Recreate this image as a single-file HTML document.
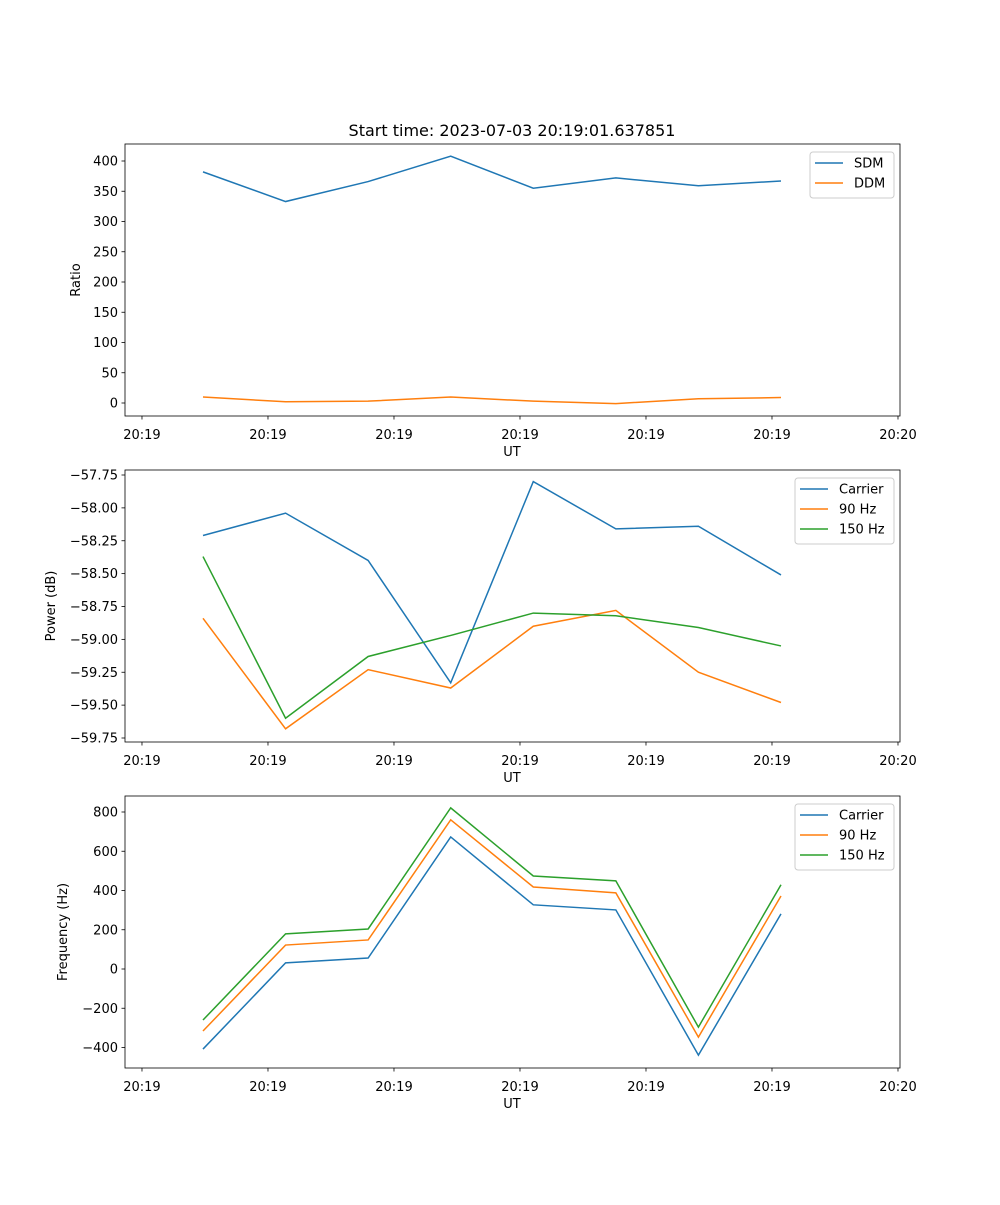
<!DOCTYPE html>
<html><head><meta charset="utf-8"><style>
html,body{margin:0;padding:0;background:#fff;}
svg text{font-family:"DejaVu Sans","Liberation Sans",sans-serif;fill:#000;}
</style></head><body>
<svg id="fig" width="1000" height="1200" xmlns="http://www.w3.org/2000/svg">
<text x="512" y="136" font-size="16" text-anchor="middle">Start time: 2023-07-03 20:19:01.637851</text>
</svg>
<script>
const xTickPos = [-0.739, 0.787, 2.313, 3.839, 5.365, 6.891, 8.417];
const xTickLabels = ["20:19","20:19","20:19","20:19","20:19","20:19","20:20"];
const sdm = [382, 333, 366, 408, 355, 372, 359, 367];
const ddm = [10, 2, 3, 10, 3, -1, 7, 9];
const pwrCarrier = [-58.21, -58.04, -58.40, -59.33, -57.80, -58.16, -58.14, -58.51];
const pwr90 = [-58.84, -59.68, -59.23, -59.37, -58.90, -58.78, -59.25, -59.48];
const pwr150 = [-58.37, -59.60, -59.13, -58.97, -58.80, -58.82, -58.91, -59.05];
const frqCarrier = [-408, 31, 56, 673, 327, 301, -439, 281];
const frq90 = [-316, 122, 148, 760, 418, 388, -347, 372];
const frq150 = [-260, 179, 204, 821, 474, 449, -296, 429];
const ratioTicks = [0,50,100,150,200,250,300,350,400];
const powerTicks = [-57.75,-58.00,-58.25,-58.50,-58.75,-59.00,-59.25,-59.50,-59.75];
const freqTicks = [-400,-200,0,200,400,600,800];

const NS="http://www.w3.org/2000/svg";
const svg=document.getElementById('fig');
function mk(tag,attrs,parent){const e=document.createElementNS(NS,tag);for(const k in attrs)e.setAttribute(k,attrs[k]);(parent||svg).appendChild(e);return e;}
const L=125,R=900;
const xs=i=>203+i*82.57;
const C1='#1f77b4',C2='#ff7f0e',C3='#2ca02c';

function panel(name,top,bot,v0,y0,v1,y1,yticks,fmt,ylabel,series,legX,legW){
  const g=mk('g',{});
  
  
  const ys=v=>y0+(v-v0)*(y1-y0)/(v1-v0);
  series.forEach(s=>{
    const p=mk('polyline',{points:s.vals.map((v,i)=>xs(i)+','+ys(v)).join(' '),fill:'none',stroke:s.color,'stroke-width':1.5},g);
    
    
  });
  const fr=mk('rect',{x:L,y:top,width:R-L,height:bot-top,fill:'none',stroke:'#000','stroke-width':0.8},g);
  
  
  yticks.forEach(t=>{
    const y=ys(t);
    mk('line',{x1:L-3.5,x2:L,y1:y,y2:y,stroke:'#000','stroke-width':0.8},g);
    const tx=mk('text',{x:L-7,y:y+4.5,'font-size':13,'text-anchor':'end'},g);
    tx.textContent=fmt(t);
    
    
  });
  xTickPos.forEach((t,i)=>{
    const x=xs(t);
    mk('line',{x1:x,x2:x,y1:bot,y2:bot+3.5,stroke:'#000','stroke-width':0.8},g);
    const tx=mk('text',{x:x,y:bot+23,'font-size':13,'text-anchor':'middle'},g);
    tx.textContent=xTickLabels[i];
    
    
  });
  const xl=mk('text',{x:512,y:bot+40,'font-size':13,'text-anchor':'middle'},g);
  xl.textContent='UT';
  
  
  const yc=(top+bot)/2;
  const yl=mk('text',{x:0,y:0,'font-size':13,'text-anchor':'middle',transform:`translate(${ylabel.x},${yc}) rotate(-90)`},g);
  yl.textContent=ylabel.t;
  
  
  const lg=mk('g',{},g);
  
  
  const lh=series.length*20+6;
  mk('rect',{x:legX,y:top+8,width:legW,height:lh,rx:3,fill:'#fff','fill-opacity':0.8,stroke:'#ccc','stroke-width':1},lg);
  series.forEach((s,i)=>{
    const y=top+19+i*20;
    mk('line',{x1:legX+5,x2:legX+33,y1:y,y2:y,stroke:s.color,'stroke-width':1.5},lg);
    const tx=mk('text',{x:legX+44,y:y+4.5,'font-size':13},lg);
    tx.textContent=s.label;
    
    
  });
}
panel('ratio-panel',144,416,0,403,400,161,ratioTicks,t=>t.toFixed(0).replace('-','−'),{x:80,t:'Ratio'},
  [{id:'sdm',vals:sdm,color:C1,label:'SDM'},{id:'ddm',vals:ddm,color:C2,label:'DDM'}],810,84);
panel('power-panel',470,742,-57.75,475,-59.75,738,powerTicks,t=>t.toFixed(2).replace('-','−'),{x:55,t:'Power (dB)'},
  [{id:'carrier',vals:pwrCarrier,color:C1,label:'Carrier'},{id:'90hz',vals:pwr90,color:C2,label:'90 Hz'},{id:'150hz',vals:pwr150,color:C3,label:'150 Hz'}],795,99);
panel('frequency-panel',796,1068,0,969,800,812,freqTicks,t=>String(t).replace('-','−'),{x:67,t:'Frequency (Hz)'},
  [{id:'carrier',vals:frqCarrier,color:C1,label:'Carrier'},{id:'90hz',vals:frq90,color:C2,label:'90 Hz'},{id:'150hz',vals:frq150,color:C3,label:'150 Hz'}],795,99);
</script>
</body></html>
